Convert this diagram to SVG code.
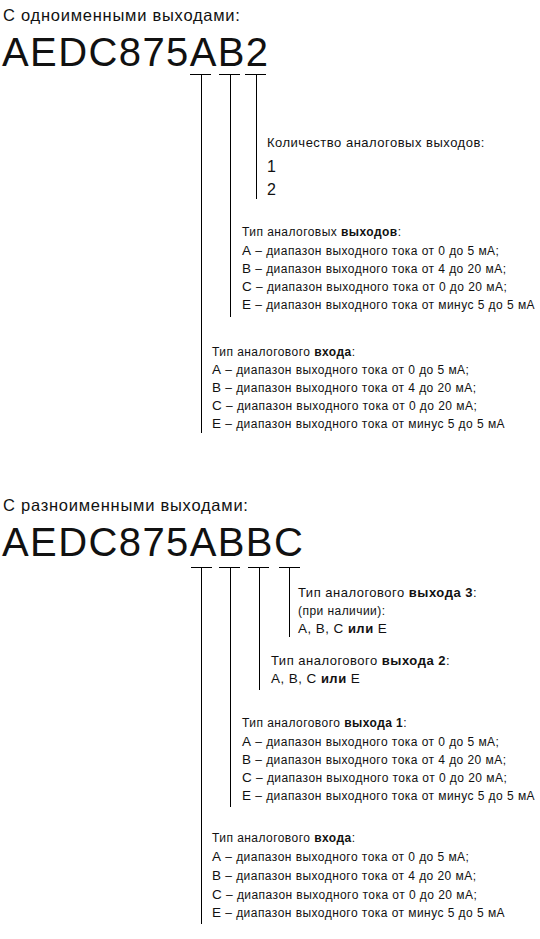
<svg xmlns="http://www.w3.org/2000/svg" width="540" height="939" viewBox="0 0 540 939">
<style>
text{font-family:"Liberation Sans",Arial,sans-serif;fill:#111}
.t{font-size:16.5px;letter-spacing:0.75px}
.code{font-size:40px;letter-spacing:1.4px}
.b{font-size:12px;letter-spacing:0.45px}
.m{font-size:13px;letter-spacing:0.5px}
.n{font-size:16px}
.L{font-size:13.5px}
.k{font-weight:bold}
.c{stroke:#000;stroke-width:1;fill:none}
</style>
<rect width="540" height="939" fill="#fff"/>

<g id="section1-title"><text class="t" x="3" y="21">С одноименными выходами:</text></g>
<g id="code1"><text class="code" x="2" y="66">AEDC875AB2</text></g>

<g id="connectors1" class="c">
<path d="M190 74.5H211M219 74.5H240M245 74.5H266"/>
<path d="M201.5 74.5V433M230.5 74.5V317M256.5 74.5V199"/>
</g>

<g id="count-outputs">
<text class="m" x="267" y="147">Количество аналоговых выходов:</text>
<text class="n" x="267" y="172">1</text>
<text class="n" x="267" y="195">2</text>
</g>

<g id="outputs-type1">
<text class="b" x="242" y="236">Тип аналоговых <tspan class="k">выходов</tspan>:</text>
<text class="b" x="242" y="254.5"><tspan class="L">А</tspan> – диапазон выходного тока от 0 до 5 мА;</text>
<text class="b" x="242" y="273"><tspan class="L">В</tspan> – диапазон выходного тока от 4 до 20 мА;</text>
<text class="b" x="242" y="291"><tspan class="L">С</tspan> – диапазон выходного тока от 0 до 20 мА;</text>
<text class="b" x="242" y="309"><tspan class="L">Е</tspan> – диапазон выходного тока от минус 5 до 5 мА</text>
</g>

<g id="input-type1">
<text class="b" x="212" y="356">Тип аналогового <tspan class="k">входа</tspan>:</text>
<text class="b" x="212" y="374"><tspan class="L">А</tspan> – диапазон выходного тока от 0 до 5 мА;</text>
<text class="b" x="212" y="392"><tspan class="L">В</tspan> – диапазон выходного тока от 4 до 20 мА;</text>
<text class="b" x="212" y="410"><tspan class="L">С</tspan> – диапазон выходного тока от 0 до 20 мА;</text>
<text class="b" x="212" y="428"><tspan class="L">Е</tspan> – диапазон выходного тока от минус 5 до 5 мА</text>
</g>

<g id="section2-title"><text class="t" x="3" y="511">С разноименными выходами:</text></g>
<g id="code2"><text class="code" x="2" y="556">AEDC875ABBC</text></g>

<g id="connectors2" class="c">
<path d="M191 567.5H212M219 567.5H240M248 567.5H269M279 567.5H300"/>
<path d="M201.5 567.5V924M230.5 567.5V807M259.5 567.5V690M289.5 567.5V637"/>
</g>

<g id="output3">
<text class="m" x="298" y="597">Тип аналогового <tspan class="k">выхода 3</tspan>:</text>
<text class="b" x="298" y="615">(при наличии):</text>
<text class="m" x="298" y="633"><tspan class="L">А</tspan>, <tspan class="L">В</tspan>, <tspan class="L">С</tspan> <tspan class="k">или</tspan> <tspan class="L">Е</tspan></text>
</g>

<g id="output2">
<text class="m" x="271" y="665">Тип аналогового <tspan class="k">выхода 2</tspan>:</text>
<text class="m" x="271" y="683"><tspan class="L">А</tspan>, <tspan class="L">В</tspan>, <tspan class="L">С</tspan> <tspan class="k">или</tspan> <tspan class="L">Е</tspan></text>
</g>

<g id="output1">
<text class="b" x="242" y="727">Тип аналогового <tspan class="k">выхода 1</tspan>:</text>
<text class="b" x="242" y="745.5"><tspan class="L">А</tspan> – диапазон выходного тока от 0 до 5 мА;</text>
<text class="b" x="242" y="764"><tspan class="L">В</tspan> – диапазон выходного тока от 4 до 20 мА;</text>
<text class="b" x="242" y="782"><tspan class="L">С</tspan> – диапазон выходного тока от 0 до 20 мА;</text>
<text class="b" x="242" y="800"><tspan class="L">Е</tspan> – диапазон выходного тока от минус 5 до 5 мА</text>
</g>

<g id="input-type2">
<text class="b" x="212" y="842">Тип аналогового <tspan class="k">входа</tspan>:</text>
<text class="b" x="212" y="861"><tspan class="L">А</tspan> – диапазон выходного тока от 0 до 5 мА;</text>
<text class="b" x="212" y="880"><tspan class="L">В</tspan> – диапазон выходного тока от 4 до 20 мА;</text>
<text class="b" x="212" y="899"><tspan class="L">С</tspan> – диапазон выходного тока от 0 до 20 мА;</text>
<text class="b" x="212" y="917"><tspan class="L">Е</tspan> – диапазон выходного тока от минус 5 до 5 мА</text>
</g>
</svg>
